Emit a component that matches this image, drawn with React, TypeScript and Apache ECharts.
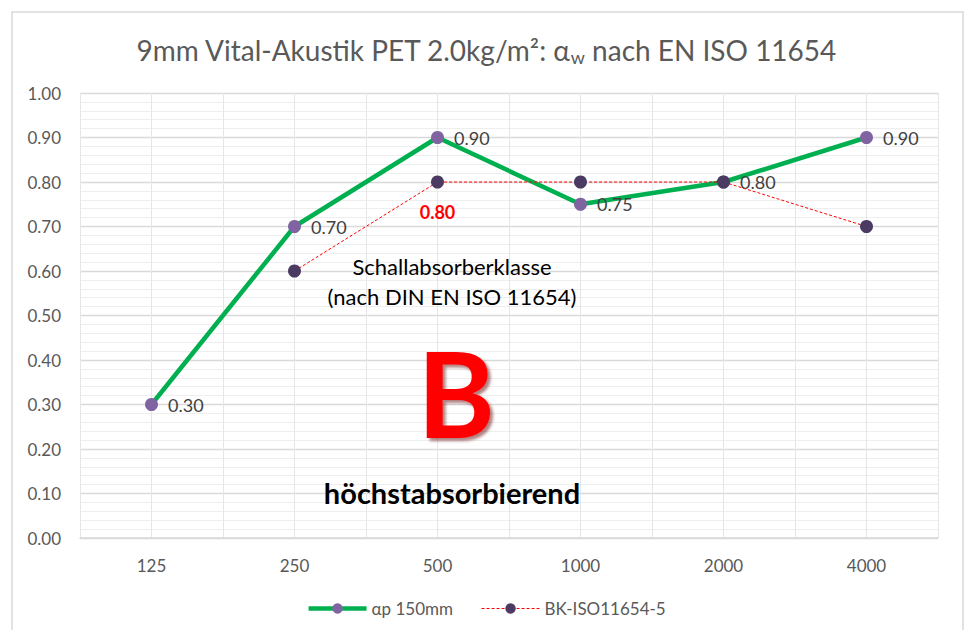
import React, { useEffect, useRef } from "react";
import * as echarts from "echarts";

const categories = ["125", "250", "500", "1000", "2000", "4000"];
const alphaP = [0.3, 0.7, 0.9, 0.75, 0.8, 0.9];
const bkIso = [null, 0.6, 0.8, 0.8, 0.8, 0.7];
const bkLabelIndex = 2;
const yTicks = { min: 0, max: 1, interval: 0.1 };

const FONT = "Lato, 'Open Sans', sans-serif";

export default function App() {
  const ref = useRef<HTMLDivElement>(null);
  useEffect(() => {
    if (!ref.current) return;
    const chart = echarts.init(ref.current, null, { renderer: "svg" });
    const option: any = {
      animation: false,
      backgroundColor: "#ffffff",
      textStyle: { fontFamily: FONT },
      title: {
        text: "9mm Vital-Akustik PET 2.0kg/m²: α{sub|w} nach EN ISO 11654",
        left: "center",
        top: 28,
        textStyle: {
          fontFamily: FONT,
          fontSize: 28,
          fontWeight: "normal",
          color: "#595959",
          rich: {
            sub: { fontSize: 18, color: "#595959", fontFamily: FONT, padding: [15, 0, 0, 0] },
          },
        },
      },
      grid: { left: 80, right: 34, top: 93, bottom: 92 },
      legend: {
        bottom: 8,
        left: "center",
        itemWidth: 58,
        itemHeight: 13,
        itemGap: 28,
        textStyle: { fontSize: 17, color: "#595959", fontFamily: FONT },
        data: [
          { name: "αp 150mm", lineStyle: { width: 4.5, color: "#00B050" } },
          { name: "BK-ISO11654-5", lineStyle: { width: 1, color: "#FF0000", type: [3, 2] } },
        ],
      },
      xAxis: [
        {
          type: "category",
          data: categories,
          boundaryGap: true,
          axisLine: { lineStyle: { color: "#d9d9d9", width: 1.5 } },
          axisTick: { show: false },
          splitLine: { show: false },
          axisLabel: { color: "#595959", fontSize: 17, margin: 19, fontFamily: FONT },
        },
        {
          type: "value",
          min: 0,
          max: 12,
          interval: 1,
          show: true,
          position: "bottom",
          axisLine: { show: false },
          axisTick: { show: false },
          axisLabel: { show: false },
          splitLine: { show: true, lineStyle: { color: "#e6e6e6", width: 1 } },
        },
      ],
      yAxis: {
        type: "value",
        min: yTicks.min,
        max: yTicks.max,
        interval: yTicks.interval,
        axisLine: { show: false },
        axisTick: { show: false },
        axisLabel: {
          color: "#595959",
          fontSize: 17,
          margin: 19,
          fontFamily: FONT,
          formatter: (v: number) => v.toFixed(2),
        },
        splitLine: { show: true, lineStyle: { color: "#d9d9d9", width: 1.3 } },
        minorTick: { show: false, splitNumber: 5 },
        minorSplitLine: { show: true, lineStyle: { color: "#eeeeee", width: 1 } },
      },
      series: [
        {
          name: "αp 150mm",
          type: "line",
          data: alphaP,
          symbol: "circle",
          symbolSize: 13,
          lineStyle: { color: "#00B050", width: 4.5 },
          itemStyle: { color: "#8064A2" },
          label: {
            show: true,
            position: "right",
            distance: 10,
            color: "#404040",
            fontSize: 18,
            fontFamily: FONT,
            formatter: (p: any) => Number(p.value).toFixed(2),
          },
          z: 3,
        },
        {
          name: "BK-ISO11654-5",
          type: "line",
          data: bkIso.map((v, i) =>
            i === bkLabelIndex
              ? {
                  value: v,
                  label: {
                    show: true,
                    position: "bottom",
                    distance: 14,
                    color: "#FF0000",
                    fontWeight: "bold",
                    fontSize: 18,
                    fontFamily: FONT,
                    formatter: (p: any) => Number(p.value).toFixed(2),
                  },
                }
              : v
          ),
          connectNulls: false,
          symbol: "circle",
          symbolSize: 13,
          lineStyle: { color: "#FF0000", width: 1, type: [3, 2] },
          itemStyle: { color: "#4B3A62" },
          label: { show: false },
          z: 4,
        },
      ],
      graphic: [
        {
          type: "rect",
          shape: { x: 12, y: 12, width: 951, height: 640 },
          style: { fill: "none", stroke: "#d9d9d9", lineWidth: 1.5 },
          z: -1,
          silent: true,
        },
        {
          type: "text",
          x: 452,
          y: 266,
          style: {
            text: "Schallabsorberklasse",
            fontSize: 22,
            fontFamily: FONT,
            fill: "#000000",
            align: "center",
            verticalAlign: "middle",
          },
          z: 10,
        },
        {
          type: "text",
          x: 452,
          y: 296,
          style: {
            text: "(nach DIN EN ISO 11654)",
            fontSize: 22,
            fontFamily: FONT,
            fill: "#000000",
            align: "center",
            verticalAlign: "middle",
          },
          z: 10,
        },
        {
          type: "text",
          x: 456,
          y: 392,
          style: {
            text: "B",
            fontSize: 118,
            fontWeight: "bold",
            fontFamily: FONT,
            fill: "#FF0000",
            align: "center",
            verticalAlign: "middle",
            textShadowColor: "rgba(100,0,0,0.5)",
            textShadowBlur: 3,
            textShadowOffsetX: 3,
            textShadowOffsetY: 3,
          },
          z: 10,
        },
        {
          type: "text",
          x: 452,
          y: 492,
          style: {
            text: "höchstabsorbierend",
            fontSize: 29,
            fontWeight: "bold",
            fontFamily: FONT,
            fill: "#000000",
            align: "center",
            verticalAlign: "middle",
          },
          z: 10,
        },
      ],
    };
    chart.setOption(option);
    return () => chart.dispose();
  }, []);
  return (
    <div
      ref={ref}
      style={{ position: "fixed", left: 0, top: 0, width: 972, height: 630 }}
    />
  );
}
